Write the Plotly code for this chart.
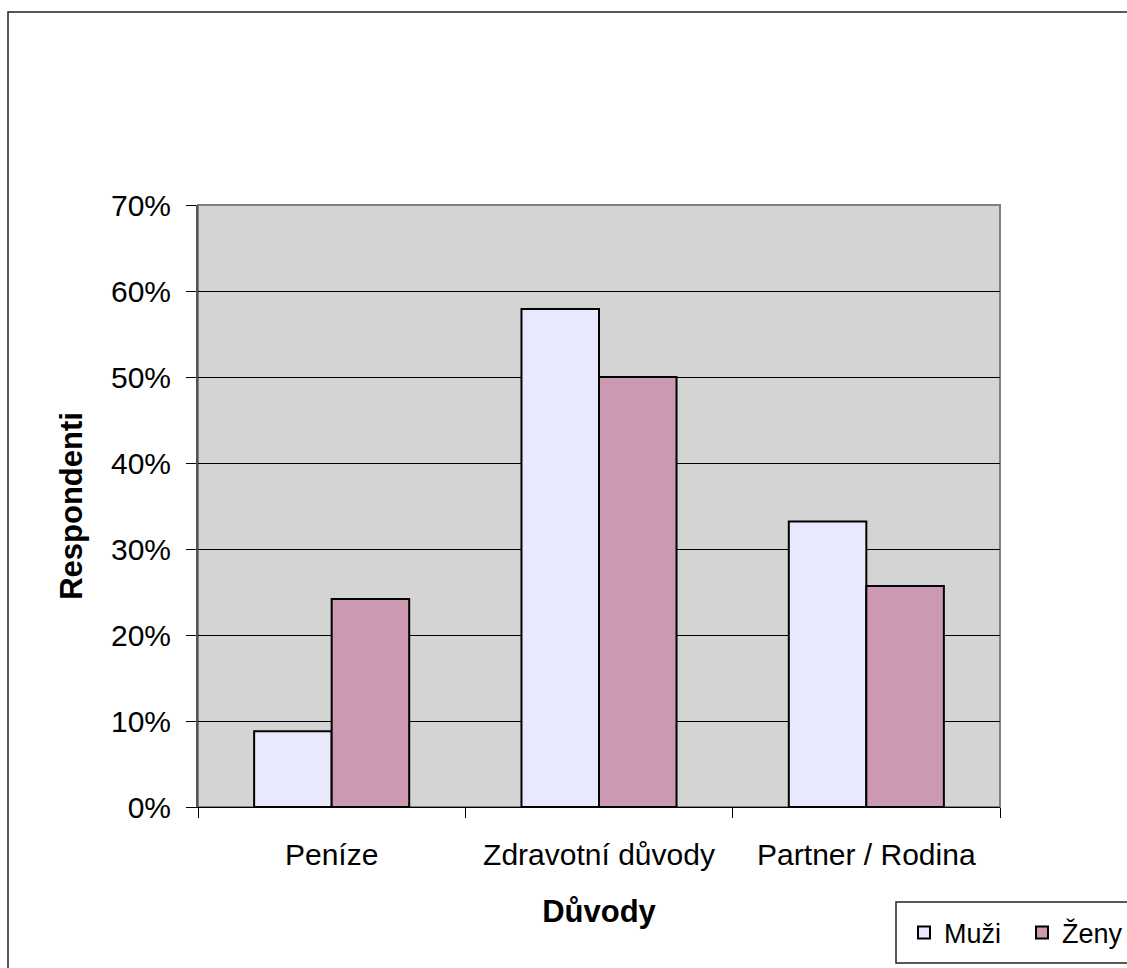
import plotly.graph_objects as go

# Reasons for the decision, share of respondents by gender
categories = ["Peníze", "Zdravotní důvody", "Partner / Rodina"]
muzi = [0.088, 0.579, 0.332]
zeny = [0.242, 0.500, 0.257]
series_names = ["Muži", "Ženy"]
y_ticks = [0, 0.1, 0.2, 0.3, 0.4, 0.5, 0.6, 0.7]

W, H = 1127, 968
L, R, T, B = 198, 127, 205, 161
pw, ph = W - L - R, H - T - B

def px(x):
    return (x - L) / pw

def py(y):
    return (H - B - y) / ph

FONT = "Liberation Sans, Arial, sans-serif"

fig = go.Figure()
fig.add_trace(go.Bar(
    x=categories, y=muzi, name=series_names[0],
    marker=dict(color="#E9E9FD", line=dict(color="black", width=2)),
))
fig.add_trace(go.Bar(
    x=categories, y=zeny, name=series_names[1],
    marker=dict(color="#CC99B3", line=dict(color="black", width=2)),
))

fig.update_layout(
    width=W, height=H,
    margin=dict(l=L, r=R, t=T, b=B, autoexpand=False),
    paper_bgcolor="white",
    plot_bgcolor="#D4D4D4",
    barmode="group",
    bargap=0.42,
    bargroupgap=0,
    font=dict(family=FONT, size=30, color="black"),
    showlegend=True,
    legend=dict(
        orientation="h",
        x=px(904), y=py(933), xanchor="left", yanchor="middle",
        font=dict(size=27),
        bgcolor="rgba(0,0,0,0)",
        borderwidth=0,
        itemwidth=30,
        entrywidth=73,
        entrywidthmode="pixels",
    ),
    xaxis=dict(
        type="category",
        tickson="boundaries",
        ticks="outside", ticklen=10, tickwidth=1, tickcolor="black",
        showline=True, linecolor="black", linewidth=1,
        showgrid=False,
        tickfont=dict(size=30),
        ticklabelstandoff=21,
        title=dict(text="<b>Důvody</b>", font=dict(size=31), standoff=30),
    ),
    yaxis=dict(
        range=[0, 0.7],
        tickvals=y_ticks,
        tickformat=".0%",
        ticks="outside", ticklen=10, tickwidth=1, tickcolor="black",
        showline=True, linecolor="#555555", linewidth=2,
        showgrid=True, gridcolor="black", gridwidth=1,
        zeroline=False,
        tickfont=dict(size=30),
        ticklabelstandoff=9,
        title=dict(text="<b>Respondenti</b>", font=dict(size=31), standoff=19),
    ),
    shapes=[
        # plot area frame (top and right edges)
        dict(type="rect", xref="paper", yref="paper", x0=0, x1=1, y0=0, y1=1,
             line=dict(color="#808080", width=2), layer="below"),
        # outer chart frame
        dict(type="rect", xref="paper", yref="paper",
             x0=px(8), x1=px(1140), y0=py(990), y1=py(12),
             line=dict(color="#222222", width=1.5)),
        # legend box
        dict(type="rect", xref="paper", yref="paper",
             x0=px(896), x1=px(1140), y0=py(963), y1=py(902),
             line=dict(color="#222222", width=1.5)),
    ],
)

fig.write_html("out.html")
